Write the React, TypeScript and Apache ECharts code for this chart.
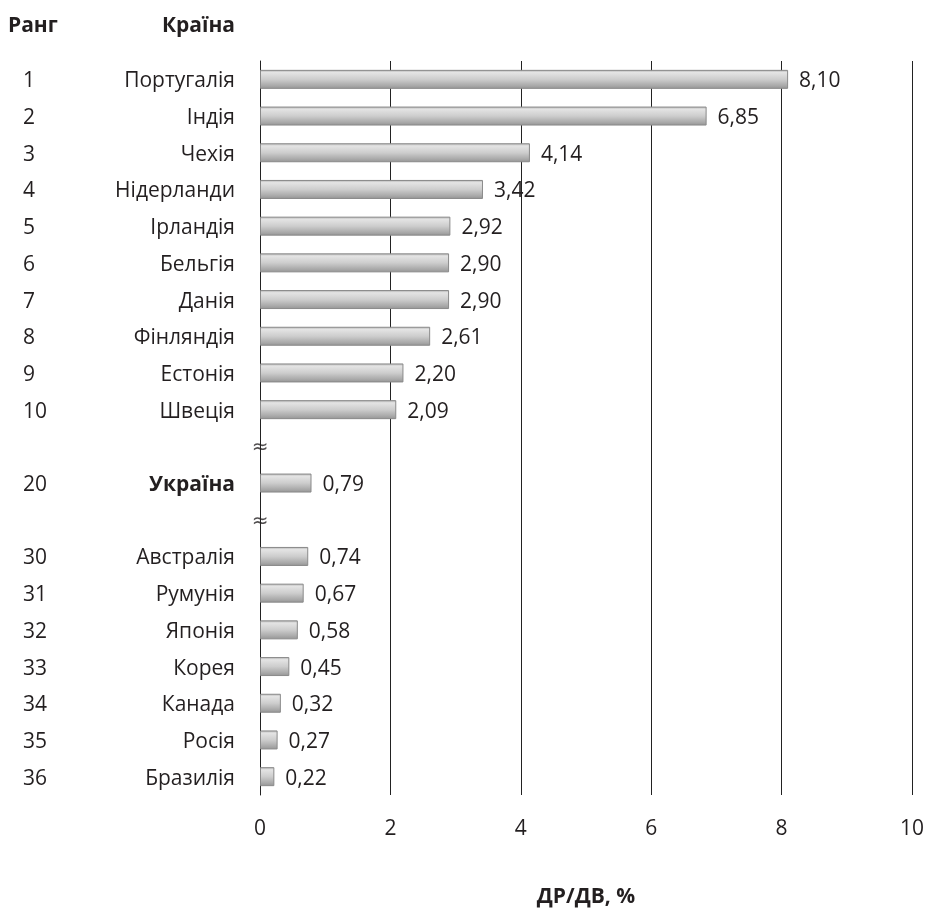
import React, { useEffect, useRef } from "react";
import * as echarts from "echarts";

const ranks = ["1", "2", "3", "4", "5", "6", "7", "8", "9", "10", "", "20", "", "30", "31", "32", "33", "34", "35", "36"];
const countries = [
  "Португалія", "Індія", "Чехія", "Нідерланди", "Ірландія", "Бельгія", "Данія", "Фінляндія", "Естонія", "Швеція",
  "", "Україна", "",
  "Австралія", "Румунія", "Японія", "Корея", "Канада", "Росія", "Бразилія",
];
const values: (number | null)[] = [
  8.1, 6.85, 4.14, 3.42, 2.92, 2.9, 2.9, 2.61, 2.2, 2.09,
  null, 0.79, null,
  0.74, 0.67, 0.58, 0.45, 0.32, 0.27, 0.22,
];
const breakRows = [10, 12];
const highlighted = "Україна";
const xTicks = [0, 2, 4, 6, 8, 10];
const xTitle = "ДР/ДВ, %";
const rankHeader = "Ранг";
const countryHeader = "Країна";

const FONT = '"Open Sans", "Noto Sans", sans-serif';
const TXT = "#231f20";
const FS = 21;

export default function App() {
  const ref = useRef<HTMLDivElement>(null);
  useEffect(() => {
    if (!ref.current) return;
    const chart = echarts.init(ref.current, null, { renderer: "svg" });
    const cats = countries.map((_, i) => String(i));
    const barColor = new echarts.graphic.LinearGradient(0, 0, 0, 1, [
      { offset: 0, color: "#b8b8b8" },
      { offset: 0.12, color: "#e4e4e4" },
      { offset: 0.5, color: "#cdcdcd" },
      { offset: 0.85, color: "#a9a9a9" },
      { offset: 1, color: "#979797" },
    ]);
    chart.setOption({
      animation: false,
      textStyle: { fontFamily: FONT, color: TXT },
      grid: { left: 260, right: 15, top: 61, bottom: 115 },
      graphic: [
        {
          type: "text",
          x: 8,
          y: 24,
          style: { text: rankHeader, fontFamily: FONT, fontSize: FS, fontWeight: "bold", fill: TXT, verticalAlign: "middle" },
        },
        {
          type: "text",
          x: 235,
          y: 24,
          style: { text: countryHeader, fontFamily: FONT, fontSize: FS, fontWeight: "bold", fill: TXT, align: "right", verticalAlign: "middle" },
        },
      ],
      xAxis: {
        type: "value",
        min: xTicks[0],
        max: xTicks[xTicks.length - 1],
        interval: 2,
        axisLine: { show: false },
        axisTick: { show: false },
        splitLine: { show: true, lineStyle: { color: "#222", width: 1 } },
        axisLabel: { fontSize: FS, color: TXT, fontFamily: FONT, margin: 21 },
        name: xTitle,
        nameLocation: "middle",
        nameGap: 89,
        nameTextStyle: { fontSize: FS, fontWeight: "bold", color: TXT, fontFamily: FONT },
      },
      yAxis: [
        {
          type: "category",
          data: cats,
          inverse: true,
          axisLine: { show: true, lineStyle: { color: "#222", width: 1 } },
          axisTick: { show: false },
          axisLabel: {
            fontSize: FS,
            color: TXT,
            fontFamily: FONT,
            margin: 25,
            interval: 0,
            formatter: (_v: string, i: number) => {
              const c = countries[i];
              if (!c) return "";
              return c === highlighted ? `{b|${c}}` : c;
            },
            rich: { b: { fontWeight: "bold", fontSize: FS, fontFamily: FONT, color: TXT } },
          },
        },
        {
          type: "category",
          data: cats,
          inverse: true,
          position: "left",
          offset: 237,
          axisLine: { show: false },
          axisTick: { show: false },
          axisLabel: {
            fontSize: FS,
            color: TXT,
            fontFamily: FONT,
            margin: 0,
            align: "left",
            interval: 0,
            formatter: (_v: string, i: number) => ranks[i],
          },
        },
      ],
      series: [
        {
          type: "bar",
          yAxisIndex: 0,
          barWidth: 19,
          data: values.map((v) => (v == null ? "-" : v)),
          itemStyle: { color: barColor, borderColor: "#8a8a8a", borderWidth: 1 },
          label: {
            show: true,
            position: "right",
            distance: 11,
            fontSize: FS,
            color: TXT,
            fontFamily: FONT,
            formatter: (p: any) => (typeof p.value === "number" ? p.value.toFixed(2).replace(".", ",") : ""),
          },
        },
        {
          type: "scatter",
          yAxisIndex: 0,
          symbol: "rect",
          symbolSize: 4,
          itemStyle: { color: "rgba(255,255,255,0)" },
          data: breakRows.map((r) => [0, String(r)]),
          label: {
            show: true,
            position: "inside",
            formatter: "≈",
            fontSize: 20,
            color: TXT,
            fontFamily: '"DejaVu Sans", sans-serif',
            offset: [-3, 0],
          },
          labelLayout: { hideOverlap: false },
          z: 5,
        },
      ],
    });
    return () => chart.dispose();
  }, []);
  return <div ref={ref} style={{ position: "fixed", left: 0, top: 0, width: 927, height: 910 }} />;
}
